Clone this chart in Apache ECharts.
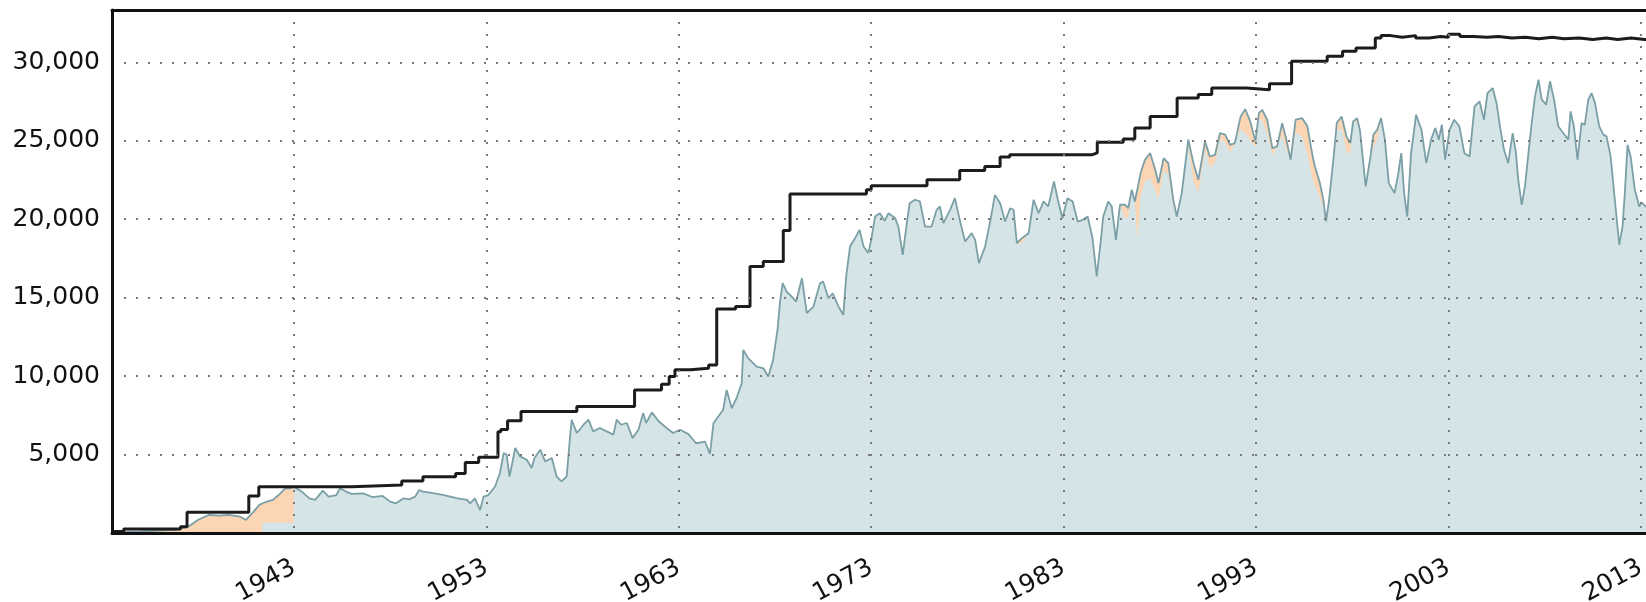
<!DOCTYPE html>
<html>
<head>
<meta charset="utf-8">
<script src="https://cdn.jsdelivr.net/npm/echarts@6/dist/echarts.min.js"></script>
<style>html,body{margin:0;padding:0;background:#fff}#c{width:1646px;height:602px}</style>
</head>
<body>
<div id="c"></div>
<script>
// x tick labels (years)
const yearTicks = [1943, 1953, 1963, 1973, 1983, 1993, 2003, 2013];

// total storage (teal line, top of orange area): [year, value]
const storagePoints = [
  [1933.9,60],[1935.0,100],[1936.0,150],[1936.8,200],[1937.5,400],[1938.0,830],[1938.56,1150],[1939.1,1110],[1939.6,1150],[1940.2,1040],[1940.5,830],[1940.9,1360],[1941.2,1790],[1941.34,1880],[1941.35,1890],[1941.6,2000],[1941.9,2110],[1942.2,2420],[1942.55,2850],[1942.8,2850],[1942.99,2950],[1943.0,2950],
  [1943.4,2640],[1943.8,2210],[1944.1,2110],[1944.5,2700],[1944.8,2320],[1945.2,2420],[1945.4,2850],[1945.7,2640],[1946.0,2490],[1946.6,2530],[1947.1,2280],[1947.6,2360],[1948.0,2000],[1948.3,1890],[1948.7,2210],[1949.0,2150],[1949.3,2320],[1949.5,2740],[1949.7,2640],[1950.3,2530],[1950.8,2420],[1951.5,2210],[1952.0,2110],[1952.15,1890],[1952.4,2210],[1952.67,1460],[1952.85,2320],
  [1953.1,2420],[1953.45,2960],[1953.7,3810],[1953.9,5100],[1954.05,4990],[1954.2,3600],[1954.5,5420],[1954.75,4880],[1955.1,4670],[1955.35,4140],[1955.5,4780],[1955.8,5310],[1956.05,4560],[1956.4,4780],[1956.65,3600],[1956.9,3290],[1957.17,3600],[1957.35,6160],[1957.43,7220],[1957.7,6370],[1958.05,6900],[1958.3,7220],[1958.55,6480],[1958.9,6690],[1959.25,6480],[1959.6,6270],[1959.77,7220],[1960.0,6900],[1960.3,7010],[1960.6,6050],[1960.9,6580],[1961.15,7650],[1961.3,7010],[1961.6,7690],[1961.95,7120],[1962.37,6690],[1962.7,6370],
  [1963.07,6580],[1963.5,6300],[1963.9,5720],[1964.36,5830],[1964.62,5040],[1964.8,6990],[1965.05,7420],[1965.3,7840],[1965.49,9120],[1965.75,7950],[1966.0,8590],[1966.27,9540],[1966.35,11670],[1966.6,11140],[1967.05,10610],[1967.4,10500],[1967.65,9970],[1967.9,11030],[1968.13,12950],[1968.27,14860],[1968.4,15920],[1968.6,15390],[1968.87,15070],[1969.1,14750],[1969.4,16240],[1969.65,14010],[1970.0,14430],[1970.34,15920],[1970.5,16030],[1970.78,14960],[1971.0,15280],[1971.3,14430],[1971.55,13900],[1971.7,16350],[1971.9,18260],[1972.16,18790],[1972.4,19320],[1972.6,18260],[1972.85,17840],
  [1973.0,18680],[1973.2,20170],[1973.45,20380],[1973.7,19900],[1973.9,20380],[1974.25,20060],[1974.41,19530],[1974.64,17730],[1974.85,19750],[1975.0,21020],[1975.27,21240],[1975.53,21130],[1975.8,19530],[1976.14,19530],[1976.4,20600],[1976.57,20810],[1976.75,19750],[1977.1,20600],[1977.35,21340],[1977.6,19960],[1977.88,18580],[1978.22,19110],[1978.4,18680],[1978.6,17200],[1978.92,18260],[1979.2,19960],[1979.43,21550],[1979.7,21020],[1979.96,19850],[1980.22,20700],[1980.4,20600],[1980.57,18470],[1980.83,18790],[1981.18,19110],[1981.44,21240],[1981.7,20380],[1981.96,21130],[1982.2,20810],[1982.5,22400],[1982.7,21240],[1982.94,20060],
  [1983.2,21340],[1983.47,21130],[1983.73,19850],[1984.0,19960],[1984.25,20170],[1984.5,18800],[1984.72,16350],[1984.9,18260],[1985.06,20170],[1985.32,21130],[1985.5,20810],[1985.72,18680],[1985.93,20920],[1986.2,20920],[1986.36,20700],[1986.54,21880],[1986.7,21130],[1986.85,22000],[1987.0,22940],[1987.23,23790],[1987.5,24210],[1987.76,23150],[1987.93,22300],[1988.2,23890],[1988.44,23570],[1988.7,21240],[1988.88,20170],[1989.14,21660],[1989.48,25070],[1989.75,23570],[1990.0,22510],[1990.35,24960],[1990.6,24000],[1990.87,24100],[1991.13,25490],[1991.4,25390],[1991.65,24740],[1991.9,24850],[1992.2,26550],[1992.44,27010],[1992.7,26230],[1992.97,24960],
  [1993.15,26760],[1993.32,26970],[1993.58,26340],[1993.85,24530],[1994.1,24640],[1994.36,26120],[1994.54,25270],[1994.8,23790],[1995.06,26340],[1995.4,26440],[1995.67,25920],[1995.93,24100],[1996.06,23360],[1996.32,22300],[1996.5,21240],[1996.64,19860],[1996.8,21240],[1997.02,23790],[1997.2,26130],[1997.45,26550],[1997.7,25280],[1997.9,24850],[1998.05,26230],[1998.25,26440],[1998.4,25700],[1998.7,22090],[1998.95,24000],[1999.1,25390],[1999.3,25700],[1999.5,26440],[1999.7,25070],[1999.9,22300],[2000.2,21660],[2000.4,22940],[2000.55,24210],[2000.7,21660],[2000.86,20170],[2001.06,24210],[2001.32,26650],[2001.6,25700],[2001.85,23570],[2002.1,25070],[2002.32,25810],[2002.5,25070],[2002.66,26020],[2002.83,23790],
  [2003.06,25700],[2003.3,26340],[2003.57,25920],[2003.83,24210],[2004.1,24000],[2004.36,27190],[2004.62,27510],[2004.85,26340],[2005.03,28040],[2005.3,28360],[2005.5,27400],[2005.68,25920],[2005.89,24420],[2006.11,23570],[2006.34,25490],[2006.51,24210],[2006.63,22510],[2006.81,20920],[2006.98,22090],[2007.16,24210],[2007.33,26130],[2007.5,27830],[2007.68,28890],[2007.85,27620],[2008.08,27300],[2008.28,28790],[2008.49,27620],[2008.71,25920],[2008.97,25490],[2009.23,25070],[2009.35,26870],[2009.52,25920],[2009.71,23790],[2009.92,26130],[2010.09,26020],[2010.27,27620],[2010.44,28040],[2010.62,27400],[2010.84,25920],[2011.05,25390],[2011.22,25280],[2011.43,24000],[2011.65,21240],[2011.88,18370],[2012.05,19540],[2012.17,21660],[2012.31,24740],[2012.47,24000],[2012.69,21880],[2012.92,20810],[2013.04,21070],[2013.26,20810],[2013.5,20700]
];

// orange portion (part of total not in the blue series): [year, amount]
const orangeExcess = [
  [1933.9,60],[1935.0,100],[1936.0,150],[1936.8,200],[1937.5,400],[1938.0,830],[1938.56,1150],[1939.1,1110],[1939.6,1150],[1940.2,1040],[1940.5,830],[1940.9,1360],[1941.2,1790],[1941.34,1880],[1941.35,1240],[1941.6,1350],[1941.9,1460],[1942.2,1770],[1942.55,2200],[1942.8,2200],[1942.99,2300],
  [1980.83,300],[1986.2,850],[1986.36,600],[1986.85,3300],[1987.0,1500],[1987.23,1400],[1987.5,1600],[1987.76,1300],[1987.93,1000],[1988.2,800],[1988.44,700],[1988.7,400],
  [1989.48,400],[1989.75,1200],[1990.0,800],[1990.35,500],[1990.6,700],[1990.87,500],[1991.13,400],[1991.4,500],[1991.65,500],[1992.2,800],[1992.44,1500],[1992.7,1200],[1992.97,400],
  [1993.15,400],[1993.32,700],[1993.58,900],[1993.85,400],[1994.36,800],[1994.54,700],[1995.06,800],[1995.4,1200],[1995.67,1800],[1995.93,1500],[1996.06,1200],[1996.32,900],[1996.5,500],
  [1997.2,500],[1997.45,800],[1997.7,900],[1997.9,700],[1998.25,300],[1999.1,800],[1999.3,600]
];

// capacity (black step line): [year of change, new value]
const capacitySteps = [
  [1933.54,100],[1934.15,260],[1937.1,400],[1937.44,1320],[1940.65,2360],[1941.17,2950],[1946.0,3060],[1948.6,3320],[1949.7,3590],[1951.4,3800],[1951.9,4500],[1952.6,4830],
  [1953.6,6460],[1953.75,6600],[1954.1,7160],[1954.8,7740],[1957.7,8060],[1960.7,9120],[1962.1,9480],[1962.5,9970],[1962.8,10400],[1963.6,10500],[1964.55,10715],
  [1964.97,14270],[1965.95,14440],[1966.7,16990],[1967.39,17300],[1968.43,19280],[1968.78,21600],[1972.75,21880],[1973.0,22130],[1975.9,22510],[1977.6,23110],[1978.9,23360],[1979.7,23960],[1980.2,24110],
  [1984.5,24230],[1984.75,24900],[1986.1,25110],[1986.7,25810],[1987.5,26550],[1988.9,27720],[1990.0,27940],[1990.7,28360],[1992.5,28250],[1993.7,28640],[1994.85,30060],[1996.7,30380],[1997.5,30700],[1998.2,30910],[1999.2,31550],[1999.5,31700],
  [2000.0,31600],[2000.6,31700],[2001.3,31550],[2002.0,31650],[2002.6,31600],[2003.0,31780],[2003.6,31650],[2004.3,31600],[2005.0,31650],[2005.6,31550],[2006.3,31600],[2007.0,31500],[2007.7,31600],[2008.4,31500],[2009.0,31550],[2009.8,31450],[2010.5,31550],[2011.2,31450],[2011.8,31550],[2012.5,31450],[2013.2,31500],[2014.0,31500]
];

const gapMap = {};
orangeExcess.forEach(([y, g]) => { gapMap[y] = g; });
const blueData = storagePoints.map(([y, v]) => [y, v - (gapMap[y] || 0)]);

const FONT = 'DejaVu Sans';
const GRID_LINE = { color: '#7a7a7a', width: 2, type: [2, 10] };
const chart = echarts.init(document.getElementById('c'), null, { renderer: 'canvas' });
chart.setOption({
  animation: false,
  backgroundColor: '#ffffff',
  grid: { left: 112, top: 10, bottom: 69, right: 0, show: false, containLabel: false, outerBoundsMode: 'none' },
  xAxis: [{
    type: 'value', min: 1933.54, max: 2013.27, z: 10,
    axisLine: { show: true, onZero: false, lineStyle: { color: '#111', width: 3 } },
    axisTick: { show: false, customValues: yearTicks },
    axisLabel: { customValues: yearTicks, rotate: 28, margin: 33, fontFamily: FONT, fontSize: 25, color: '#111', formatter: v => String(v) },
    splitLine: { show: true, lineStyle: GRID_LINE }
  }, {
    type: 'value', position: 'top', min: 1933.54, max: 2013.27, z: 10,
    axisLine: { show: true, onZero: false, lineStyle: { color: '#111', width: 3 } },
    axisTick: { show: false }, axisLabel: { show: false }, splitLine: { show: false }
  }],
  yAxis: {
    type: 'value', min: 0, max: 33333, interval: 5000, z: 10,
    axisLine: { show: true, lineStyle: { color: '#111', width: 3 } },
    axisTick: { show: false },
    axisLabel: { showMaxLabel: false, margin: 12, fontFamily: FONT, fontSize: 25, color: '#111',
      formatter: v => v === 0 ? '' : v.toLocaleString('en-US') },
    splitLine: { show: true, lineStyle: GRID_LINE }
  },
  series: [
    { name: 'orange', type: 'line', data: storagePoints, showSymbol: false, z: 2,
      lineStyle: { width: 0 }, areaStyle: { color: '#fcd6b4', opacity: 1 } },
    { name: 'blue', type: 'line', data: blueData, showSymbol: false, z: 3,
      lineStyle: { width: 0 }, areaStyle: { color: '#d5e4e6', opacity: 1 } },
    { name: 'storage', type: 'line', data: storagePoints, showSymbol: false, z: 4,
      lineStyle: { width: 1.8, color: '#7a9fa6' } },
    { name: 'capacity', type: 'line', step: 'end', data: capacitySteps, showSymbol: false, z: 5,
      lineStyle: { width: 3, color: '#1c1c1c' } }
  ]
});
</script>
</body>
</html>
